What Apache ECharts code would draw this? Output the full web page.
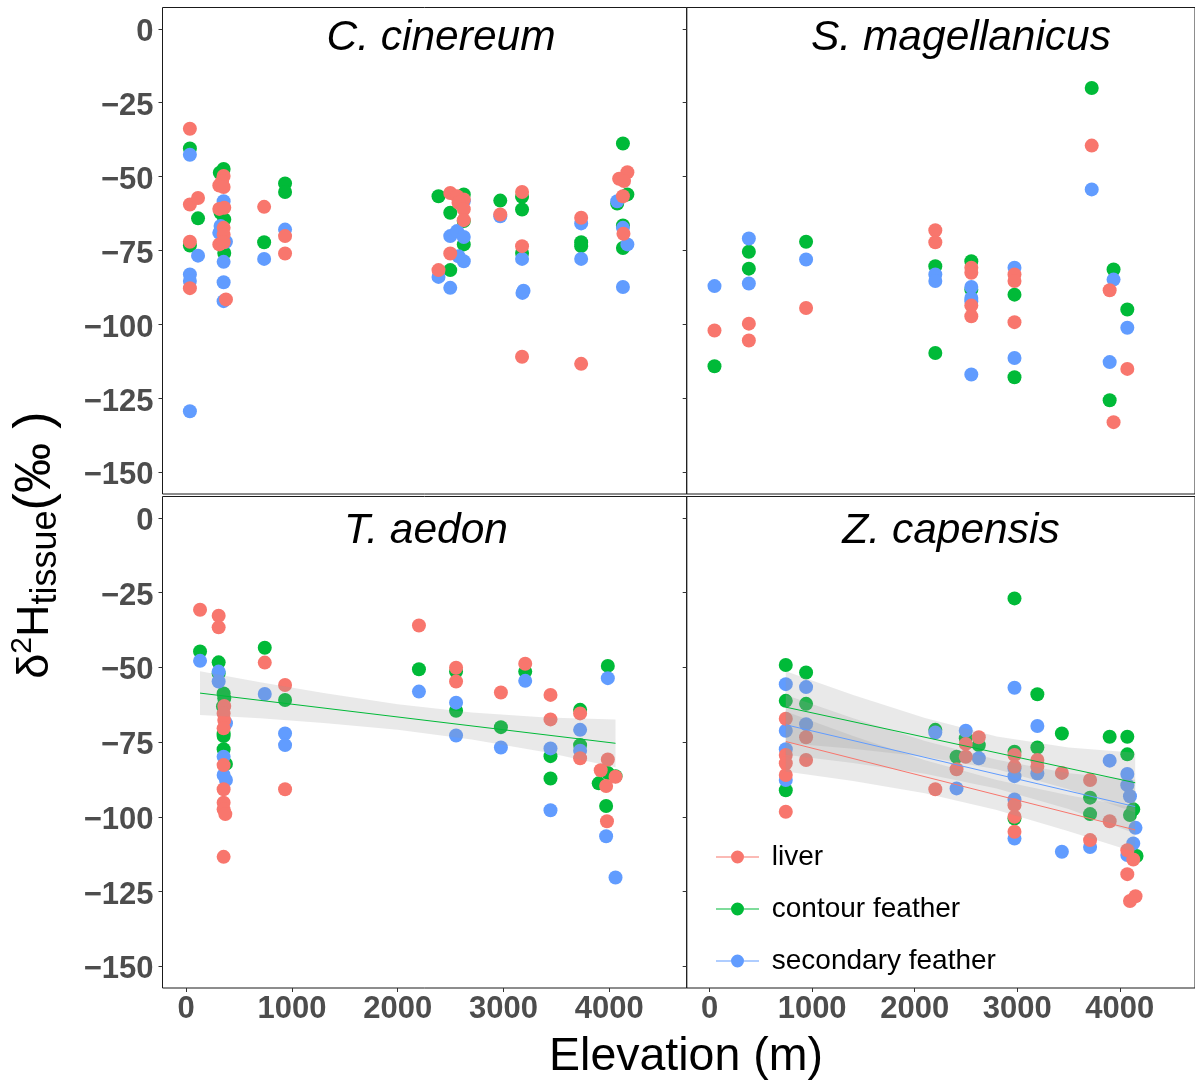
<!DOCTYPE html>
<html>
<head>
<meta charset="utf-8">
<script src="https://cdn.jsdelivr.net/npm/echarts@6/dist/echarts.min.js"></script>
<style>
html,body{margin:0;padding:0;background:#fff;}
#chart{width:1195px;height:1085px;}
</style>
</head>
<body>
<div id="chart"></div>
<script>
// ---------- tick labels ----------
const elevTicks = [0, 1000, 2000, 3000, 4000];
const d2hTicks = [0, -25, -50, -75, -100, -125, -150];
const tissues = ['liver', 'contour feather', 'secondary feather'];
const panelTitles = ['C. cinereum', 'S. magellanicus', 'T. aedon', 'Z. capensis'];

// ---------- C. cinereum ----------
const cinLiver = [[35,-33.8],[35,-59.4],[35,-72.0],[35,-87.7],[112,-57.2],
  [354,-49.8],[340,-51.5],[313,-53],[354,-53.5],[313,-60.9],[360,-60.5],[354,-67.3],[354,-69.6],[313,-72.9],[354,-72.2],[376,-91.5],
  [737,-60.2],[935,-70.1],[935,-76],[2386,-81.6],[2497,-55.5],[2497,-76],
  [2561,-56.6],[2625,-57.7],[2575,-58.8],[2625,-61],[2625,-64.7],[2970,-62.8],
  [3176,-55.2],[3176,-73.5],[3176,-110.9],[3735,-63.9],[3735,-113.3],
  [4172,-48.5],[4094,-50.7],[4140,-51.5],[4130,-56.6],[4135,-69.3]];
const cinContour = [[35,-40.5],[35,-73.3],[112,-64.1],
  [354,-47.4],[318,-48.7],[325,-62.2],[360,-64.5],[360,-75.8],
  [737,-72.2],[935,-52.3],[935,-55.2],[2386,-56.6],[2497,-62.2],[2497,-81.6],
  [2625,-56],[2625,-65],[2625,-72.9],[2970,-58.1],[3176,-56.8],[3176,-61.1],[3176,-75.8],
  [3735,-72.2],[3735,-73.5],[4130,-38.8],[4172,-56],[4076,-59.1],[4130,-66.5],[4130,-74.1]];
const cinSecondary = [[35,-42.6],[35,-83.1],[35,-85.3],[35,-129.3],[112,-76.7],
  [354,-58.3],[325,-66.7],[313,-69],[376,-72],[354,-78.8],[354,-85.7],[354,-92.1],
  [737,-77.8],[935,-67.9],[2386,-83.9],[2497,-70.1],[2497,-87.6],
  [2561,-68.4],[2625,-70.4],[2575,-76.9],[2625,-78.6],[2625,-58.3],[2970,-63.4],
  [3176,-77.8],[3180,-89.3],[3190,-88.6],[3735,-65.8],[3735,-77.8],
  [4076,-58.3],[4130,-67.3],[4172,-72.9],[4130,-87.3]];

// ---------- S. magellanicus ----------
const magLiver = [[48,-102],[383,-99.7],[383,-105.4],[941,-94.4],[2201,-68.1],[2201,-72.2],
  [2552,-80.8],[2552,-82.5],[2552,-93.6],[2552,-97.2],[2973,-83.1],[2973,-85.3],[2973,-99.2],
  [3726,-39.5],[3901,-88.4],[3939,-133],[4073,-115]];
const magContour = [[48,-114.1],[383,-75.4],[383,-81.1],[941,-72],[2201,-80.3],[2201,-109.6],
  [2552,-78.6],[2552,-88.2],[2973,-89.9],[2973,-117.8],[3726,-20],[3939,-81.4],[3901,-125.6],[4073,-94.9]];
const magSecondary = [[48,-87],[383,-70.9],[383,-86.1],[941,-78],[2201,-83.1],[2201,-85.3],
  [2552,-87.3],[2552,-91],[2552,-92.1],[2552,-116.9],[2973,-80.8],[2973,-111.3],
  [3726,-54.3],[3939,-84.8],[3901,-112.7],[4073,-101.1]];

// ---------- T. aedon ----------
const aedLiver = [[131,-30.7],[307,-32.7],[307,-36.6],[360,-62.9],[354,-65.4],[360,-67.6],[354,-70.4],
  [354,-82.7],[354,-90.8],[354,-95.3],[354,-97.5],[370,-99.1],[354,-113.4],[743,-48.4],[935,-55.9],[935,-90.8],
  [2201,-36],[2552,-50.1],[2552,-54.7],[2976,-58.4],[3206,-48.8],[3445,-59.2],[3445,-67.4],
  [3725,-65.4],[3725,-80.4],[3987,-80.8],[3920,-84.4],[3971,-89.7],[4060,-86.6],[3979,-101.5]];
const aedContour = [[131,-44.7],[307,-48.3],[307,-52],[354,-58.7],[360,-60.3],[348,-63.1],[354,-72.1],
  [354,-73],[354,-77.4],[376,-82.3],[743,-43.4],[935,-60.9],[2201,-50.6],[2552,-51.4],[2552,-64.5],
  [2976,-70],[3206,-51.4],[3445,-79.7],[3445,-87.2],[3725,-64.2],[3725,-76],[3987,-49.5],[3987,-85.3],
  [3901,-88.8],[4060,-86.4],[3971,-96.4]];
const aedSecondary = [[131,-47.8],[307,-51.4],[307,-54.7],[376,-68.7],[354,-79.9],[354,-86],[376,-87.7],
  [743,-58.9],[935,-72.1],[935,-76],[2201,-58.1],[2552,-61.8],[2552,-72.8],[2976,-76.8],[3206,-54.5],
  [3445,-77.1],[3445,-97.8],[3725,-70.9],[3725,-77.9],[3987,-53.6],[3971,-106.5],[4060,-120.3]];

// ---------- Z. capensis ----------
const capLiver = [[743,-67.2],[743,-79.3],[743,-82.1],[743,-86],[743,-98.3],[941,-73.4],[941,-81],
  [2201,-90.8],[2408,-84.1],[2498,-75.6],[2498,-79.9],[2625,-73.4],[2973,-79.3],[2973,-83.2],
  [2973,-96.1],[2973,-100],[2973,-105],[3196,-81],[3196,-83.2],[3435,-85.3],[3710,-87.7],[3710,-107.8],
  [3901,-101.5],[4073,-111.2],[4131,-114.3],[4073,-119.2],[4153,-126.6],[4099,-128.2]];
const capContour = [[743,-49.2],[743,-61.2],[743,-91.1],[941,-51.7],[941,-62.2],[2201,-70.9],[2408,-79.9],
  [2498,-73.7],[2625,-76],[2973,-26.9],[2973,-78.2],[2973,-100.6],[3196,-59],[3196,-76.8],[3435,-72.1],
  [3710,-93.6],[3710,-99.1],[3901,-73.2],[4073,-73.2],[4073,-79.1],[4131,-97.5],[4099,-99.4],[4163,-113.1]];
const capSecondary = [[743,-55.6],[743,-71.2],[743,-77.4],[743,-87.7],[941,-56.6],[941,-69],[2201,-71.8],
  [2408,-90.5],[2498,-71.2],[2625,-80.4],[2973,-56.8],[2973,-83.8],[2973,-86.4],[2973,-94.2],[2973,-107.3],
  [3196,-69.6],[3196,-85.5],[3435,-111.7],[3710,-110.1],[3901,-81.2],[4073,-85.7],[4073,-89.4],
  [4099,-93.1],[4153,-103.7],[4131,-108.9],[4073,-112.8]];

// ---------- fitted lines and confidence bands ----------
const aedFitX = [131, 4060];
const aedFitContour = [-58.6, -75.4];
const aedBandX = [131, 700, 1300, 2000, 2700, 3400, 4060];
const aedBandContourHi = [-51.3, -55.0, -58.6, -62.3, -65.1, -66.8, -67.4];
const aedBandContourLo = [-65.9, -67.0, -68.6, -70.9, -74.1, -78.4, -83.4];

const capFitX = [743, 4150];
const capFitLiver = [-74.8, -104.4];
const capFitContour = [-63.3, -88.6];
const capFitSecondary = [-69.2, -96.6];
const capBandX = [743, 1400, 2100, 2800, 3500, 4150];
const capBandContourHi = [-51.3, -59.2, -66.9, -73.1, -76.8, -78.6];
const capBandContourLo = [-75.3, -77.2, -79.9, -84.1, -90.8, -98.6];
const capBandSecondaryHi = [-59.2, -67.0, -74.6, -80.9, -85.4, -87.6];
const capBandSecondaryLo = [-79.2, -82.0, -85.6, -90.5, -97.4, -105.6];
const capBandLiverHi = [-64.8, -73.0, -81.1, -87.7, -92.8, -96.9];
const capBandLiverLo = [-84.8, -88.0, -92.1, -97.7, -104.8, -111.9];

// ---------- styling ----------
const colors = {'liver': '#F8766D', 'contour feather': '#00BA38', 'secondary feather': '#619CFF'};
const FONT = 'Liberation Sans, Arial, Helvetica, sans-serif';

const panels = [
  {liver: cinLiver, contour: cinContour, secondary: cinSecondary, fits: [], bands: []},
  {liver: magLiver, contour: magContour, secondary: magSecondary, fits: [], bands: []},
  {liver: aedLiver, contour: aedContour, secondary: aedSecondary,
    fits: [{name: 'contour feather', x: aedFitX, y: aedFitContour}],
    bands: [{x: aedBandX, hi: aedBandContourHi, lo: aedBandContourLo}]},
  {liver: capLiver, contour: capContour, secondary: capSecondary,
    fits: [{name: 'liver', x: capFitX, y: capFitLiver},
           {name: 'contour feather', x: capFitX, y: capFitContour},
           {name: 'secondary feather', x: capFitX, y: capFitSecondary}],
    bands: [{x: capBandX, hi: capBandContourHi, lo: capBandContourLo},
            {x: capBandX, hi: capBandSecondaryHi, lo: capBandSecondaryLo},
            {x: capBandX, hi: capBandLiverHi, lo: capBandLiverLo}]}
];

const gridPos = [
  {left: 162.5, top: 7.5, width: 524.2, height: 486.5},
  {left: 686.7, top: 7.5, width: 518, height: 486.5},
  {left: 162.5, top: 496.5, width: 524.2, height: 491.5},
  {left: 686.7, top: 496.5, width: 518, height: 491.5}
];
const xRanges = [[-224, 4733], [-223, 4733], [-224, 4733], [-223, 4733]];
const yRange = [-157.3, 7.2];
const titlePos = [[441, 38], [961, 38], [426, 531], [951, 531]];

const minusFmt = v => '{v|' + String(v).replace('-', '\u2212') + '}';

const grid = gridPos.map(g => Object.assign({show: true, borderColor: '#1a1a1a', borderWidth: 1, backgroundColor: 'transparent', containLabel: false}, g));

const xAxis = gridPos.map((g, i) => ({
  type: 'value', gridIndex: i, min: xRanges[i][0], max: xRanges[i][1], position: 'bottom',
  axisLine: {show: false, onZero: false}, splitLine: {show: false},
  axisTick: {show: i >= 2, length: 4, customValues: elevTicks, lineStyle: {color: '#333', width: 1}},
  axisLabel: {show: i >= 2, customValues: elevTicks, margin: 6, fontSize: 31, fontWeight: 'bold', color: '#4D4D4D', fontFamily: FONT, formatter: v => String(v)},
  minorTick: {show: false}
}));
const yAxis = gridPos.map((g, i) => ({
  type: 'value', gridIndex: i, min: yRange[0], max: yRange[1], position: 'left',
  axisLine: {show: false, onZero: false}, splitLine: {show: false},
  axisTick: {show: true, length: 4, customValues: d2hTicks, lineStyle: {color: '#333', width: 1}},
  axisLabel: {show: i % 2 === 0, customValues: d2hTicks, margin: 9, fontSize: 31, fontWeight: 'bold', color: '#4D4D4D', fontFamily: FONT, formatter: minusFmt,
    rich: {v: {fontSize: 31, fontWeight: 'bold', color: '#4D4D4D', fontFamily: FONT, padding: [7, 0, 0, 0]}}}
}));

const series = [];
panels.forEach((p, i) => {
  // draw order: contour, secondary, liver (liver on top)
  [['contour feather', p.contour], ['secondary feather', p.secondary], ['liver', p.liver]].forEach(([name, data]) => {
    series.push({
      type: 'scatter', name: name, xAxisIndex: i, yAxisIndex: i, data: data,
      symbol: 'circle', symbolSize: 14, itemStyle: {color: colors[name], opacity: 1},
      z: 2, silent: true
    });
  });
  p.bands.forEach(b => {
    series.push({
      type: 'custom', xAxisIndex: i, yAxisIndex: i, data: [[b.x[0], b.hi[0]]], z: 3, silent: true,
      renderItem: function (params, api) {
        const pts = [];
        for (let k = 0; k < b.x.length; k++) pts.push(api.coord([b.x[k], b.hi[k]]));
        for (let k = b.x.length - 1; k >= 0; k--) pts.push(api.coord([b.x[k], b.lo[k]]));
        return {type: 'polygon', shape: {points: pts}, style: {fill: 'rgba(153,153,153,0.22)', stroke: null}};
      }
    });
  });
  p.fits.forEach(f => {
    series.push({
      type: 'line', name: f.name, xAxisIndex: i, yAxisIndex: i,
      data: f.x.map((x, k) => [x, f.y[k]]), symbol: 'none', z: 4, silent: true,
      lineStyle: {color: colors[f.name], width: 1}, itemStyle: {color: colors[f.name]}
    });
  });
});

const graphic = panelTitles.map((t, i) => ({
  type: 'text', x: titlePos[i][0], y: titlePos[i][1], silent: true,
  style: {text: t, font: 'italic 42.5px ' + FONT, fill: '#000', textAlign: 'center', textVerticalAlign: 'middle'}
}));
graphic.push({
  type: 'text', x: 686, y: 1057, silent: true,
  style: {text: 'Elevation (m)', font: '46.5px ' + FONT, fill: '#000', textAlign: 'center', textVerticalAlign: 'middle'}
});
graphic.push({
  type: 'text', x: 36, y: 545, rotation: Math.PI / 2, silent: true,
  style: {
    text: '{a|\u03B4}{sup|2}{a|H}{sub|tissue}{p|(}{pm|\u2030}{p| )}',
    textAlign: 'center', textVerticalAlign: 'middle',
    rich: {
      a: {fontSize: 45, fontFamily: FONT, color: '#000', lineHeight: 56, verticalAlign: 'middle'},
      p: {fontSize: 52, fontFamily: FONT, color: '#000', lineHeight: 56, verticalAlign: 'middle'},
      pm: {fontSize: 50, fontFamily: FONT, color: '#000', lineHeight: 56, verticalAlign: 'middle'},
      sup: {fontSize: 30, fontFamily: FONT, color: '#000', verticalAlign: 'top', lineHeight: 30},
      sub: {fontSize: 36, fontFamily: FONT, color: '#000', verticalAlign: 'bottom', lineHeight: 36}
    }
  }
});

const legendIcon = 'path://M0,6 L15,6 L15,7 L0,7 Z M28,6 L43,6 L43,7 L28,7 Z M15,6.5 A6.5,6.5 0 1,1 28,6.5 A6.5,6.5 0 1,1 15,6.5 Z';

const option = {
  animation: false,
  backgroundColor: '#ffffff',
  grid: grid,
  xAxis: xAxis,
  yAxis: yAxis,
  series: series,
  graphic: graphic,
  legend: {
    data: tissues.map(n => ({name: n, icon: legendIcon, itemStyle: {color: colors[n]}})),
    orient: 'vertical', left: 716, top: 842, padding: 0, itemWidth: 43, itemHeight: 13, itemGap: 22,
    selectedMode: false, formatter: n => ' ' + n,
    textStyle: {fontSize: 28, color: '#000', fontFamily: FONT, lineHeight: 30}
  }
};

const chart = echarts.init(document.getElementById('chart'), null, {renderer: 'canvas'});
chart.setOption(option);
</script>
</body>
</html>
